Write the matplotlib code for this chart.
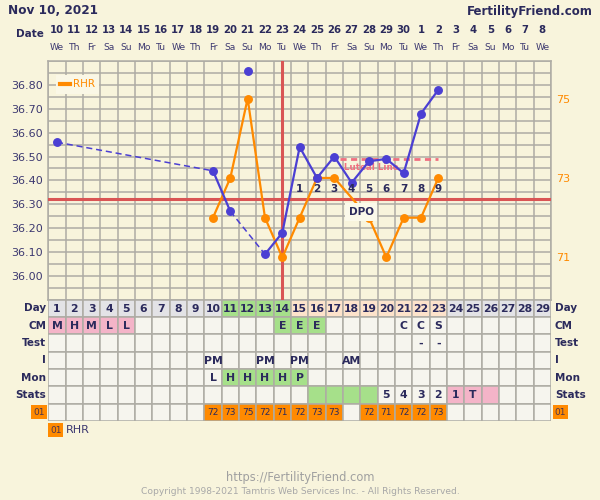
import numpy as np
import matplotlib.pyplot as plt
from matplotlib.patches import Rectangle
from matplotlib.lines import Line2D

# ---- data ----
date_nums = ['10','11','12','13','14','15','16','17','18','19','20','21','22','23','24',
             '25','26','27','28','29','30','1','2','3','4','5','6','7','8']
weekdays = ['We','Th','Fr','Sa','Su','Mo','Tu','We','Th','Fr','Sa','Su','Mo','Tu','We',
            'Th','Fr','Sa','Su','Mo','Tu','We','Th','Fr','Sa','Su','Mo','Tu','We']
n_days = 29

temp_days = [1, 10, 11, 12, 13, 14, 15, 16, 17, 18, 19, 20, 21, 22, 23]
temp_vals = [36.56, 36.44, 36.27, 36.86, 36.09, 36.18, 36.54, 36.41, 36.50, 36.39,
             36.48, 36.49, 36.43, 36.68, 36.78]
temp_excluded = [12]

rhr_days = [10, 11, 12, 13, 14, 15, 16, 17, 19, 20, 21, 22, 23]
rhr_vals = [72, 73, 75, 72, 71, 72, 73, 73, 72, 71, 72, 72, 73]

coverline = 36.32
ovulation_day = 14
luteal_level = 36.49
luteal_span = (17.3, 23)
dpo_days = [15, 16, 17, 18, 19, 20, 21, 22, 23]

row_labels = ['Day', 'CM', 'Test', 'I', 'Mon', 'Stats']
cm = {1: 'M', 2: 'H', 3: 'M', 4: 'L', 5: 'L', 14: 'E', 15: 'E', 16: 'E',
      21: 'C', 22: 'C', 23: 'S'}
test = {22: '-', 23: '-'}
intercourse = {10: 'PM', 13: 'PM', 15: 'PM', 18: 'AM'}
monitor = {10: 'L', 11: 'H', 12: 'H', 13: 'H', 14: 'H', 15: 'P'}
stats = {20: '5', 21: '4', 22: '3', 23: '2', 24: '1', 25: 'T'}

day_phase = ['g']*10 + ['G']*4 + ['p']*9 + ['g']*6
cm_fill = {1: 'k', 2: 'k', 3: 'k', 4: 'k', 5: 'k', 14: 'G', 15: 'G', 16: 'G'}
mon_fill = {11: 'G', 12: 'G', 13: 'G', 14: 'G', 15: 'G'}
stats_fill = {16: 'G', 17: 'G', 18: 'G', 19: 'G', 24: 'k', 25: 'k', 26: 'k'}

# ---- style ----
BG = '#f8f4dc'
NAVY = '#2b2a5c'
TICK = '#3c3870'
BLUE = '#4b3fd3'
ORANGE = '#ff8a00'
RED = '#d95555'
GRID = '#aeaca4'
fills = {'g': '#e3e3e6', 'G': '#a6e08a', 'p': '#fde3cb', 'k': '#f4b4c8',
         'e': '#f6f5ee', 'o': '#ff8a00'}

W, H = 600, 500
L, R, T, B = 48.3, 551.0, 61.2, 299.5
cell = (R - L) / n_days


def rect(l, t, r, b):
    return [l / W, 1 - b / H, (r - l) / W, (b - t) / H]


fig = plt.figure(figsize=(6, 5), dpi=100, facecolor=BG)

# background + grid layer
ax_bg = fig.add_axes(rect(L, T, R, B))
ax_bg.set_facecolor(BG)
ax_bg.set_xlim(0.5, n_days + 0.5)
ax_bg.set_ylim(35.90, 36.90)
ax_bg.set_xticks(np.arange(0.5, n_days + 1, 1))
ax_bg.set_yticks(np.arange(35.90, 36.91, 0.05))
ax_bg.grid(True, color=GRID, lw=1.1)
ax_bg.tick_params(length=0, labelleft=False, labelbottom=False)
for s in ax_bg.spines.values():
    s.set_color(GRID)
    s.set_linewidth(1.1)
ax_bg.axhline(coverline, color=RED, lw=2.2, zorder=3)
ax_bg.axvline(ovulation_day, color=RED, lw=2.2, zorder=3)

# RHR layer
ax2 = fig.add_axes(rect(L, T, R, B), sharex=ax_bg)
ax2.patch.set_visible(False)
ax2.set_ylim(69.94, 75.94)
ax2.plot(rhr_days, rhr_vals, color=ORANGE, lw=1.6, marker='o', ms=5.4)
ax2.yaxis.tick_right()
ax2.set_yticks([71, 73, 75])
ax2.tick_params(axis='y', length=0, pad=4, labelsize=8, labelcolor=ORANGE)
ax2.tick_params(axis='x', length=0, labelbottom=False)
for s in ax2.spines.values():
    s.set_visible(False)
leg = ax2.legend([Line2D([], [], color=ORANGE, lw=3)], ['RHR'], loc='upper left',
                 bbox_to_anchor=(0.004, 0.965), fontsize=7.5, labelcolor=ORANGE,
                 handlelength=0.9, handletextpad=0.3, borderpad=0.45,
                 frameon=True, fancybox=False, framealpha=1)
leg.get_frame().set_facecolor('#faf7e6')
leg.get_frame().set_edgecolor('none')

# temperature layer
ax = fig.add_axes(rect(L, T, R, B), sharex=ax_bg)
ax.patch.set_visible(False)
ax.set_ylim(35.90, 36.90)
ax.set_yticks(np.arange(36.00, 36.81, 0.1))
ax.set_yticklabels(['%.2f' % v for v in np.arange(36.00, 36.81, 0.1)])
ax.tick_params(axis='y', length=0, pad=4, labelsize=8, labelcolor=TICK)
ax.tick_params(axis='x', length=0, labelbottom=False)
for s in ax.spines.values():
    s.set_visible(False)

used = [(d, v) for d, v in zip(temp_days, temp_vals) if d not in temp_excluded]
for (d0, v0), (d1, v1) in zip(used[:-1], used[1:]):
    if d1 - d0 == 1:
        ax.plot([d0, d1], [v0, v1], color=BLUE, lw=1.6, zorder=3)
    else:
        ax.plot([d0, d1], [v0, v1], color=BLUE, lw=1.1, ls=(0, (4, 2.5)), zorder=3)
ax.plot(temp_days, temp_vals, 'o', color=BLUE, ms=5.4, zorder=4)

ax.plot(luteal_span, [luteal_level]*2, color='#f07080', lw=2, ls=(0, (2.2, 1.6)), zorder=2)
ax.text(np.mean(luteal_span) - 1.0, luteal_level - 0.038, 'Luteal Line', color='#f07080',
        fontsize=6.3, fontweight='bold', ha='center', va='center', zorder=2)
for i, d in enumerate(dpo_days):
    ax.text(d, coverline + 0.045, str(i + 1), color=NAVY, fontsize=7.5,
            fontweight='bold', ha='center', va='center', zorder=5)
ax.text(18.55, coverline - 0.053, 'DPO', color=NAVY, fontsize=7.5, fontweight='bold',
        ha='center', va='center', zorder=6,
        bbox=dict(boxstyle='square,pad=0.35', fc='#fbf9ea', ec='none'))

# header dates
xt = ax.get_xaxis_transform()
for d in range(1, n_days + 1):
    ax.text(d, 1.13, date_nums[d - 1], transform=xt, ha='center', va='center',
            fontsize=7.3, fontweight='bold', color=NAVY)
    ax.text(d, 1.059, weekdays[d - 1], transform=xt, ha='center', va='center',
            fontsize=6.6, color=TICK)
fig.text(44 / W, 1 - 34 / H, 'Date', ha='right', va='center', fontsize=7.5,
         fontweight='bold', color=NAVY)
fig.text(8 / W, 1 - 11 / H, 'Nov 10, 2021', ha='left', va='center', fontsize=8.7,
         fontweight='bold', color=NAVY)
fig.text(593 / W, 1 - 11 / H, 'FertilityFriend.com', ha='right', va='center',
         fontsize=8.5, fontweight='bold', color=NAVY)

# ---- table ----
tb = fig.add_axes(rect(L, B, R, B + 7 * cell))
tb.set_xlim(0.5, n_days + 0.5)
tb.set_ylim(7, 0)
tb.axis('off')


def put_cell(d, r, fc, txt='', size=7.8, weight='bold'):
    tb.add_patch(Rectangle((d - 0.5, r), 1, 1, fc=fc, ec=GRID, lw=1.1))
    if txt:
        tb.text(d, r + 0.53, txt, ha='center', va='center', fontsize=size,
                fontweight=weight, color=NAVY)


rhr_map = dict(zip(rhr_days, rhr_vals))
for d in range(1, n_days + 1):
    put_cell(d, 0, fills[day_phase[d - 1]], str(d))
    put_cell(d, 1, fills[cm_fill.get(d, 'e')], cm.get(d, ''))
    put_cell(d, 2, fills['e'], test.get(d, ''))
    put_cell(d, 3, fills['e'], intercourse.get(d, ''))
    put_cell(d, 4, fills[mon_fill.get(d, 'e')], monitor.get(d, ''))
    put_cell(d, 5, fills[stats_fill.get(d, 'e')], stats.get(d, ''))
    if d in rhr_map:
        put_cell(d, 6, fills['o'], str(rhr_map[d]), size=6.5, weight='normal')
    else:
        put_cell(d, 6, fills['e'])

for i, lab in enumerate(row_labels):
    tb.text(0.37, i + 0.5, lab, ha='right', va='center', fontsize=7.5,
            fontweight='bold', color=NAVY, clip_on=False)
    tb.text(29.73, i + 0.5, lab, ha='left', va='center', fontsize=7.5,
            fontweight='bold', color=NAVY, clip_on=False)

for x0, x1 in [(-0.5, 0.42), (29.62, 30.48)]:
    tb.add_patch(Rectangle((x0, 6.1), x1 - x0, 0.8, fc=ORANGE, ec='none', clip_on=False))
    tb.text((x0 + x1) / 2, 6.52, '01', ha='center', va='center', fontsize=6.5,
            color='#4a3550', clip_on=False)
tb.add_patch(Rectangle((0.5, 7.12), 0.87, 0.84, fc=ORANGE, ec='none', clip_on=False))
tb.text(0.935, 7.55, '01', ha='center', va='center', fontsize=6.5, color='#4a3550',
        clip_on=False)
tb.text(1.5, 7.52, 'RHR', ha='left', va='center', fontsize=8, color=TICK, clip_on=False)

# footer
fig.text(0.5, 1 - 478 / H, 'https://FertilityFriend.com', ha='center', va='center',
         fontsize=8.3, color='#a0a0a0')
fig.text(0.5, 1 - 491 / H, 'Copyright 1998-2021 Tamtris Web Services Inc. - All Rights Reserved.',
         ha='center', va='center', fontsize=6.6, color='#a8a8a8')

fig.savefig('out.png', dpi=100, facecolor=BG)
